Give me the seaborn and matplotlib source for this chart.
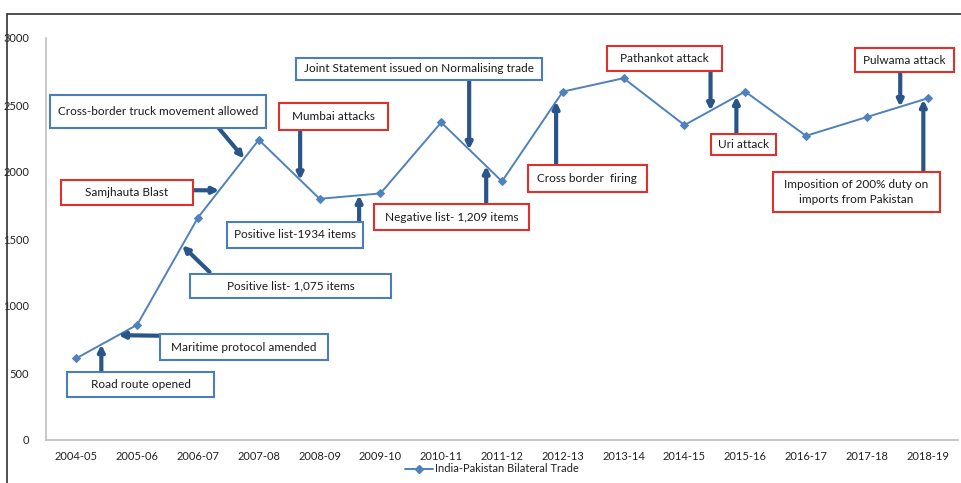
"""
India-Pakistan bilateral trade with event annotations
"""
import matplotlib.pyplot as plt
import seaborn as sns
import pandas as pd
import numpy as np
from matplotlib.patches import Rectangle
from matplotlib.lines import Line2D

years = ['2004-05', '2005-06', '2006-07', '2007-08', '2008-09', '2009-10',
         '2010-11', '2011-12', '2012-13', '2013-14', '2014-15', '2015-16',
         '2016-17', '2017-18', '2018-19']
trade = [610, 860, 1660, 2240, 1800, 1840, 2370, 1930, 2600, 2700,
         2350, 2600, 2270, 2410, 2550]

# event label, box colour, box (x0, x1, y0, y1), arrow tail (x, y), arrow head x
events = [
    ('Road route opened', 'blue', (-0.16, 2.27, 321, 507), (0.41, 507), 0.41),
    ('Maritime protocol amended', 'blue', (1.38, 4.13, 597, 791), (1.38, 778), 0.69),
    ('Positive list- 1,075 items', 'blue', (1.875, 5.18, 1060, 1239), (2.19, 1254), 1.74),
    ('Samjhauta Blast', 'red', (-0.25, 1.91, 1754, 1940), (1.91, 1864), 2.35),
    ('Cross-border truck movement allowed', 'blue', (-0.44, 3.125, 2328, 2575), (2.34, 2328), 2.76),
    ('Positive list-1934 items', 'blue', (2.48, 4.72, 1433, 1627), (4.65, 1627), 4.65),
    ('Mumbai attacks', 'red', (3.34, 5.12, 2313, 2515), (3.68, 2313), 3.68),
    ('Joint Statement issued on Normalising trade', 'blue', (3.62, 7.65, 2687, 2851), (6.46, 2687), 6.46),
    ('Negative list- 1,209 items', 'red', (4.90, 7.45, 1567, 1761), (6.74, 1761), 6.74),
    ('Cross border  firing', 'red', (7.42, 9.39, 1851, 2052), (7.89, 2052), 7.89),
    ('Pathankot attack', 'red', (8.73, 10.625, 2754, 2940), (10.43, 2754), 10.43),
    ('Uri attack', 'red', (10.44, 11.5, 2127, 2284), (10.855, 2284), 10.855),
    ('Pulwama attack', 'red', (12.8, 14.44, 2746, 2925), (13.55, 2746), 13.55),
    ('Imposition of 200% duty on\nimports from Pakistan', 'red', (11.45, 14.21, 1701, 2000), (13.93, 2000), 13.93),
]

edge_colors = {'blue': '#4a7ebb', 'red': '#e0302c'}
line_color = '#4f81bd'
arrow_color = '#2a5588'

sns.set_style('white')
plt.rcParams['font.family'] = ['Lato', 'DejaVu Sans']

df = pd.DataFrame({'year': years, 'trade': trade})

fig = plt.figure(figsize=(9.62, 4.83), dpi=100)
ax = fig.add_axes([46 / 962, 43 / 483, 912 / 962, 402 / 483])

sns.lineplot(data=df, x='year', y='trade', marker='D', markersize=4.5,
             markeredgecolor=line_color, color=line_color, linewidth=1.4,
             sort=False, label='India-Pakistan Bilateral Trade', ax=ax)

ax.set_xlim(-0.5, len(years) - 0.5)
ax.set_ylim(0, 3000)
ax.set_yticks(range(0, 3001, 500))
ax.set_xlabel('')
ax.set_ylabel('')
ax.tick_params(axis='both', length=0, labelsize=8, labelcolor='#222222')
ax.tick_params(axis='y', pad=12)
ax.tick_params(axis='x', pad=8)
for side in ['top', 'right']:
    ax.spines[side].set_visible(False)
for side in ['left', 'bottom']:
    ax.spines[side].set_color('#bfbfbf')
    ax.spines[side].set_linewidth(1.2)

xs = np.arange(len(trade))
for label, col, (x0, x1, y0, y1), (tx, ty), hx in events:
    ax.add_patch(Rectangle((x0, y0), x1 - x0, y1 - y0, facecolor='white',
                           edgecolor=edge_colors[col], linewidth=1.5, zorder=4,
                           clip_on=False))
    ax.text((x0 + x1) / 2, (y0 + y1) / 2, label, ha='center', va='center',
            fontsize=8.5, color='#1a1a1a', zorder=5, linespacing=1.4)
    hy = np.interp(hx, xs, trade)
    ax.annotate('', xy=(hx, hy), xytext=(tx, ty), zorder=3,
                arrowprops=dict(arrowstyle='-|>', color=arrow_color, lw=3,
                                mutation_scale=9, shrinkA=0, shrinkB=0))

ax.legend_.remove()
handle = Line2D([], [], color=line_color, marker='D', markersize=4, linewidth=1.4)
fig.legend([handle], ['India-Pakistan Bilateral Trade'], loc='center',
           bbox_to_anchor=(492 / 962, 1 - 469 / 483), frameon=False,
           fontsize=8, handlelength=2.5, handletextpad=0.2,
           labelcolor='#222222')

# outer frame lines
fig.add_artist(Line2D([7 / 962, 7 / 962], [0, 1 - 14 / 483],
                      color='#333333', linewidth=1.2))
fig.add_artist(Line2D([7 / 962, 1], [1 - 14 / 483, 1 - 14 / 483],
                      color='#333333', linewidth=1.2))

plt.savefig('out.png', dpi=100)
